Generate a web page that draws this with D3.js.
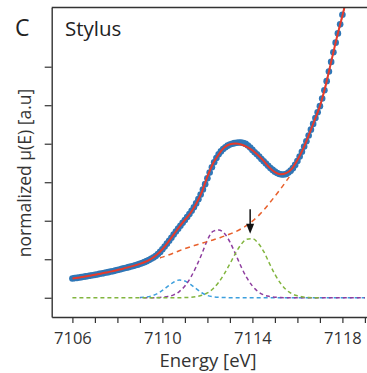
<!DOCTYPE html>
<html>
<head>
<meta charset="utf-8">
<script src="https://cdn.jsdelivr.net/npm/d3@7"></script>
<style>
  body { margin: 0; background: #fff; }
  svg { display: block; font-family: "Open Sans", sans-serif; }
</style>
</head>
<body>
<div id="chart"></div>
<script>
// measured spectrum (normalized mu(E)), 0.1 eV steps
const energy = [
  7106.0, 7106.1, 7106.2, 7106.3, 7106.4, 7106.5, 7106.6, 7106.7, 7106.8, 7106.9,
  7107.0, 7107.1, 7107.2, 7107.3, 7107.4, 7107.5, 7107.6, 7107.7, 7107.8, 7107.9,
  7108.0, 7108.1, 7108.2, 7108.3, 7108.4, 7108.5, 7108.6, 7108.7, 7108.8, 7108.9,
  7109.0, 7109.1, 7109.2, 7109.3, 7109.4, 7109.5, 7109.6, 7109.7, 7109.8, 7109.9,
  7110.0, 7110.1, 7110.2, 7110.3, 7110.4, 7110.5, 7110.6, 7110.7, 7110.8, 7110.9,
  7111.0, 7111.1, 7111.2, 7111.3, 7111.4, 7111.5, 7111.6, 7111.7, 7111.8, 7111.9,
  7112.0, 7112.1, 7112.2, 7112.3, 7112.4, 7112.5, 7112.6, 7112.7, 7112.8, 7112.9,
  7113.0, 7113.1, 7113.2, 7113.3, 7113.4, 7113.5, 7113.6, 7113.7, 7113.8, 7113.9,
  7114.0, 7114.1, 7114.2, 7114.3, 7114.4, 7114.5, 7114.6, 7114.7, 7114.8, 7114.9,
  7115.0, 7115.1, 7115.2, 7115.3, 7115.4, 7115.5, 7115.6, 7115.7, 7115.8, 7115.9,
  7116.0, 7116.1, 7116.2, 7116.3, 7116.4, 7116.5, 7116.6, 7116.7, 7116.8, 7116.9,
  7117.0, 7117.1, 7117.2, 7117.3, 7117.4, 7117.5, 7117.6, 7117.7, 7117.8, 7117.9,
  7118.0
];
const mu = [
  0.100, 0.102, 0.103, 0.105, 0.107, 0.109, 0.111, 0.113, 0.115, 0.117,
  0.119, 0.121, 0.124, 0.126, 0.128, 0.131, 0.133, 0.136, 0.138, 0.141,
  0.144, 0.147, 0.150, 0.153, 0.156, 0.159, 0.162, 0.165, 0.169, 0.172,
  0.176, 0.180, 0.185, 0.190, 0.196, 0.202, 0.209, 0.217, 0.227, 0.238,
  0.252, 0.266, 0.281, 0.296, 0.312, 0.328, 0.344, 0.359, 0.374, 0.389,
  0.404, 0.419, 0.435, 0.452, 0.470, 0.490, 0.512, 0.536, 0.562, 0.590,
  0.620, 0.650, 0.678, 0.704, 0.726, 0.745, 0.760, 0.772, 0.782, 0.790,
  0.796, 0.800, 0.803, 0.805, 0.806, 0.806, 0.804, 0.799, 0.791, 0.780,
  0.768, 0.756, 0.745, 0.733, 0.721, 0.709, 0.697, 0.685, 0.674, 0.664,
  0.655, 0.648, 0.643, 0.640, 0.640, 0.643, 0.650, 0.660, 0.673, 0.690,
  0.710, 0.733, 0.758, 0.785, 0.813, 0.843, 0.873, 0.903, 0.933, 0.963,
  0.995, 1.035, 1.078, 1.125, 1.175, 1.225, 1.275, 1.325, 1.373, 1.420,
  1.470
];

// fit components, 0.25 eV steps (null = component not drawn there)
const fitEnergy = [
  7106.00, 7106.25, 7106.50, 7106.75, 7107.00, 7107.25, 7107.50, 7107.75,
  7108.00, 7108.25, 7108.50, 7108.75, 7109.00, 7109.25, 7109.50, 7109.75,
  7110.00, 7110.25, 7110.50, 7110.75, 7111.00, 7111.25, 7111.50, 7111.75,
  7112.00, 7112.25, 7112.50, 7112.75, 7113.00, 7113.25, 7113.50, 7113.75,
  7114.00, 7114.25, 7114.50, 7114.75, 7115.00, 7115.25, 7115.50, 7115.75,
  7116.00, 7116.25, 7116.50, 7116.75, 7117.00, 7117.25, 7117.50, 7117.75,
  7118.00, 7118.25, 7118.50, 7118.75, 7119.00
];
const background = [
  0.100, 0.104, 0.109, 0.114, 0.119, 0.125, 0.131, 0.137,
  0.144, 0.151, 0.159, 0.167, 0.175, 0.184, 0.193, 0.202,
  0.211, 0.221, 0.232, 0.244, 0.255, 0.265, 0.274, 0.283,
  0.292, 0.300, 0.310, 0.320, 0.331, 0.343, 0.358, 0.376,
  0.398, 0.424, 0.455, 0.490, 0.527, 0.565, 0.605, 0.648,
  0.705, 0.768, 0.842, 0.918, 0.995, 1.100, 1.225, 1.350,
  1.465, 1.585, 1.705, 1.825, 1.945
];
const peak1 = [
  null, null, null, null, null, null, null, null,
  null, null, null, null, 0.001, 0.003, 0.009, 0.020,
  0.038, 0.060, 0.081, 0.092, 0.087, 0.069, 0.047, 0.026,
  0.012, 0.005, 0.002, 0.001, 0, 0, 0, 0,
  0, 0, 0, 0, 0, 0, 0, 0,
  0, 0, 0, 0, 0, 0, 0, 0,
  0, 0, 0, 0, 0
];
const peak2 = [
  null, null, null, null, null, null, null, null,
  null, null, null, null, 0, 0, 0, 0.001,
  0.003, 0.007, 0.015, 0.032, 0.061, 0.104, 0.161, 0.227,
  0.300, 0.345, 0.352, 0.335, 0.290, 0.227, 0.161, 0.104,
  0.061, 0.032, 0.015, 0.007, 0.003, 0.001, 0, 0,
  0, 0, 0, 0, 0, 0, 0, 0,
  0, 0, 0, 0, 0
];
const peak3 = [
  0, 0, 0, 0, 0, 0, 0, 0,
  0, 0, 0, 0, 0, 0, 0, 0,
  0, 0, 0, 0, 0.001, 0.002, 0.006, 0.013,
  0.025, 0.047, 0.080, 0.124, 0.176, 0.231, 0.277, 0.304,
  0.307, 0.284, 0.241, 0.180, 0.122, 0.075, 0.042, 0.021,
  0.010, 0.004, 0.001, 0, 0, null, null, null,
  null, null, null, null, null
];

const xTicks = [7106, 7107, 7108, 7109, 7110, 7111, 7112, 7113, 7114, 7115, 7116, 7117, 7118, 7119];
const xLabels = [7106, 7110, 7114, 7118];
const yTicks = [0, 0.2, 0.4, 0.6, 0.8, 1.0, 1.2];
const arrowAt = {energy: 7113.9, from: 0.46, to: 0.333};

const width = 367, height = 373;
const plotLeft = 51.7, plotTop = 7.5, plotRight = 367, plotBottom = 317;

const x = d3.scaleLinear().domain([7105.08, 7119.08]).range([plotLeft, plotRight - 0.3]);
const y = d3.scaleLinear().domain([-0.1, 1.5075]).range([plotBottom, plotTop]);

const svg = d3.select("#chart").append("svg")
    .attr("width", width)
    .attr("height", height)
    .attr("viewBox", [0, 0, width, height]);

svg.append("defs").append("clipPath")
    .attr("id", "plot")
  .append("rect")
    .attr("x", plotLeft)
    .attr("y", plotTop)
    .attr("width", plotRight - plotLeft)
    .attr("height", plotBottom - plotTop);

const plot = svg.append("g").attr("clip-path", "url(#plot)");

const comp = (vals) => d3.line()
    .defined(d => d != null)
    .x((d, i) => x(fitEnergy[i]))
    .y(d => y(d))
    .curve(d3.curveMonotoneX)(vals);

// dashed components (green last so it sits on the shared baseline)
const components = [
  {vals: peak1, color: "#3d9fdd", dash: "4,3"},
  {vals: peak2, color: "#8e3d9f", dash: "4,3", offset: 3.5},
  {vals: peak3, color: "#82b53f", dash: "4,3"},
  {vals: background, color: "#e8612d", dash: "5,4"}
];
plot.selectAll("path.comp")
  .data(components)
  .join("path")
    .attr("class", "comp")
    .attr("fill", "none")
    .attr("stroke", d => d.color)
    .attr("stroke-width", 1.5)
    .attr("stroke-dasharray", d => d.dash)
    .attr("stroke-dashoffset", d => d.offset || 0)
    .attr("d", d => comp(d.vals));

// measured points
plot.append("g")
  .selectAll("circle")
  .data(mu)
  .join("circle")
    .attr("cx", (d, i) => x(energy[i]))
    .attr("cy", d => y(d))
    .attr("r", 3.3)
    .attr("fill", "#2f77b7");

// total fit = background + peaks
const fit = fitEnergy.map((e, i) => background[i] + (peak1[i] || 0) + (peak2[i] || 0) + (peak3[i] || 0));
plot.append("path")
    .attr("fill", "none")
    .attr("stroke", "#e53b2c")
    .attr("stroke-width", 2)
    .attr("d", comp(fit));

// arrow
const ax = x(arrowAt.energy), ay0 = y(arrowAt.from), ay1 = y(arrowAt.to);
svg.append("line")
    .attr("x1", ax).attr("x2", ax)
    .attr("y1", ay0).attr("y2", ay1 - 8)
    .attr("stroke", "#111")
    .attr("stroke-width", 1.5);
svg.append("path")
    .attr("fill", "#111")
    .attr("d", `M${ax - 4},${ay1 - 10}L${ax + 4},${ay1 - 10}L${ax},${ay1}Z`);

// axes
const gx = svg.append("g")
    .attr("transform", `translate(0,${plotBottom})`)
    .call(d3.axisBottom(x).tickValues(xTicks).tickSize(6).tickSizeOuter(0)
      .tickFormat(d => xLabels.includes(d) ? d : ""));
gx.select(".domain").attr("stroke", "#333").attr("stroke-width", 1.4);
gx.selectAll(".tick line").attr("stroke", "#333").attr("stroke-width", 1.2);
gx.selectAll(".tick text")
    .attr("y", 15.5)
    .attr("fill", "#333")
    .attr("font-size", 16.5)
    .attr("font-family", "Open Sans, sans-serif");

const gy = svg.append("g")
    .attr("transform", `translate(${plotLeft},0)`)
    .call(d3.axisLeft(y).tickValues(yTicks).tickSize(7).tickSizeOuter(0).tickFormat(""));
gy.select(".domain").attr("stroke", "#333").attr("stroke-width", 1.4);
gy.selectAll(".tick line").attr("stroke", "#333").attr("stroke-width", 1.2);

svg.append("line")
    .attr("x1", plotLeft).attr("x2", plotRight)
    .attr("y1", plotTop).attr("y2", plotTop)
    .attr("stroke", "#333")
    .attr("stroke-width", 1.4);

// labels
svg.append("text")
    .attr("x", 208)
    .attr("y", 366.5)
    .attr("text-anchor", "middle")
    .attr("font-size", 18.5)
    .attr("fill", "#333")
    .text("Energy [eV]");

svg.append("text")
    .attr("transform", "translate(31,173) rotate(-90)")
    .attr("text-anchor", "middle")
    .attr("font-size", 17.5)
    .attr("fill", "#333")
    .text("normalized μ(E) [a.u]");

svg.append("text")
    .attr("x", 15)
    .attr("y", 36)
    .attr("font-size", 23)
    .attr("fill", "#222")
    .text("C");

svg.append("text")
    .attr("x", 65)
    .attr("y", 36)
    .attr("font-size", 20.5)
    .attr("fill", "#222")
    .text("Stylus");
</script>
</body>
</html>
